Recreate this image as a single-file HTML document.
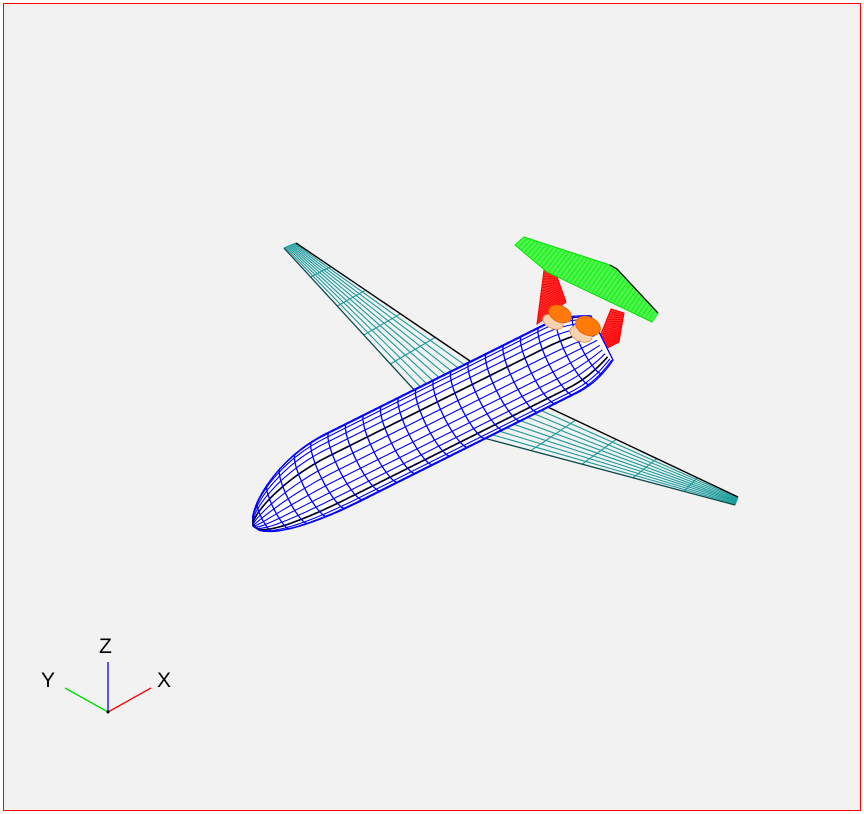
<!DOCTYPE html>
<html><head><meta charset="utf-8"><style>
html,body{margin:0;padding:0;background:#fff;}
svg{display:block;}
text{font-family:"Liberation Sans",sans-serif;font-size:21px;fill:#000;}
</style></head><body>
<svg id="c" width="864" height="814" viewBox="0 0 864 814" xmlns="http://www.w3.org/2000/svg">
<rect x="3.5" y="3.5" width="857" height="807" fill="#f2f2f2" stroke="#ff0000" stroke-width="1"/>
<g id="wl"></g>
<g id="wr"></g>
<g id="fins"></g>
<g id="fus"></g>
<g id="eng"></g>
<g id="ht"></g>
<g>
<line x1="108" y1="712" x2="108" y2="662" stroke="#0000ff" stroke-width="1.3"/>
<line x1="108" y1="712" x2="151" y2="688" stroke="#ff0000" stroke-width="1.3"/>
<line x1="108" y1="712" x2="65" y2="688" stroke="#00dd00" stroke-width="1.3"/>
<circle cx="108" cy="712" r="1.5" fill="#000"/>
<text x="99" y="653">Z</text>
<text x="157" y="687">X</text>
<text x="41" y="687">Y</text>
</g>
</svg>
<script>
const NS="http://www.w3.org/2000/svg";
function mk(g,tag,attrs){const e=document.createElementNS(NS,tag);for(const k in attrs)e.setAttribute(k,attrs[k]);document.getElementById(g).appendChild(e);return e;}
function L(a,b,t){return [a[0]+(b[0]-a[0])*t,a[1]+(b[1]-a[1])*t];}
function pts(a){return a.map(p=>p[0].toFixed(1)+","+p[1].toFixed(1)).join(" ");}
function wing(g,rA,rB,tB,tA,nSpan,nRib,col){
  const p=mk(g,'polygon',{points:pts([rA,rB,tB,tA]),fill:'#f2f2f2',stroke:'none'});
  
  for(let i=1;i<nSpan;i++){const t=i/nSpan;const a=L(rA,rB,t),b=L(tA,tB,t);
    const l=mk(g,'line',{x1:a[0],y1:a[1],x2:b[0],y2:b[1],stroke:col,'stroke-width':1.1});
    }
  for(let j=0;j<=nRib;j++){const t=j/nRib;const a=L(rA,tA,t),b=L(rB,tB,t);
    const l=mk(g,'line',{x1:a[0],y1:a[1],x2:b[0],y2:b[1],stroke:col,'stroke-width':1.1});
    }
  const e=mk(g,'line',{x1:rA[0],y1:rA[1],x2:tA[0],y2:tA[1],stroke:'#000','stroke-width':1.4});
  
  const e2=mk(g,'line',{x1:rB[0],y1:rB[1],x2:tB[0],y2:tB[1],stroke:'#0a4a4a','stroke-width':1.3});
  
}
wing('wl',[470,361],[417,393],[284,248],[296,243],9,5,'#1a9a9a');
wing('wr',[535,401],[480,437],[735,505],[738,497],9,5,'#1a9a9a');
function mesh(g,poly,col,n,name){
  const p=mk(g,'polygon',{points:pts(poly),fill:col,'fill-opacity':0.8,stroke:col,'stroke-width':1});
  
  const a=poly[0],b=poly[1],c=poly[2],d=poly[3];
  for(let i=0;i<=n;i++){const t=i/n;const u=L(a,d,t),v=L(b,c,t);
    const l=mk(g,'line',{x1:u[0],y1:u[1],x2:v[0],y2:v[1],stroke:col,'stroke-width':0.9});
    }
}
mesh('fins',[[544,270],[556,274],[566,302],[537,324]],'#ff0000',18,'left-fin');
mesh('fins',[[611,309],[624,313],[619,342],[592,356]],'#ff0000',18,'right-fin');
const N=[252,513],T=[602,338];
const dx=T[0]-N[0],dy=T[1]-N[1],len=Math.hypot(dx,dy);
const d=[dx/len,dy/len],n=[d[1],-d[0]];
if(n[1]>0){n[0]=-n[0];n[1]=-n[1];}
const R=38,K=0.22;
function rad(s){if(s<0.26){const u=s/0.26;return R*Math.pow(Math.max(0,1-(1-u)*(1-u)),0.6);}
  if(s>0.88){const u=(s-0.88)/0.12;return R*(1-0.35*u*u);}return R;}
function P(s,th){const r=rad(s);let cx=N[0]+dx*s,cy=N[1]+dy*s;
  if(s<0.26){const u=1-s/0.26;cy+=13*u*u;cx+=1*u*u;}
  return [cx+n[0]*r*Math.cos(th)-d[0]*r*K*Math.sin(th), cy+n[1]*r*Math.cos(th)-d[1]*r*K*Math.sin(th)];}
const out=[];for(let i=0;i<=100;i++)out.push(P(i/100,0));
for(let i=100;i>=0;i--)out.push(P(i/100,Math.PI));
const fb=mk('fus','polygon',{points:pts(out),fill:'#ffffff',stroke:'#0000ff','stroke-width':1.3});

const NS_=14;
for(let k=1;k<NS_;k++){const th=Math.PI*k/NS_;const a=[];for(let i=0;i<=100;i++)a.push(P(i/100,th));
  const blk=(k==5||k==11);
  const l=mk('fus','polyline',{points:pts(a),fill:'none',stroke:blk?'#000022':'#0000ff','stroke-width':blk?1.7:1.1});
  }
const st=[0.035,0.075,0.12,0.17,0.22,0.27,0.32,0.37,0.42,0.47,0.52,0.57,0.62,0.67,0.72,0.77,0.82,0.87,0.92,0.96];
st.forEach(s=>{const a=[];for(let i=0;i<=24;i++)a.push(P(s,Math.PI*i/24));
  const l=mk('fus','polyline',{points:pts(a),fill:'none',stroke:'#0000ff','stroke-width':1.3});
  });
[[560,314,12,8],[588,326,13,9]].forEach(e=>{
  const b=mk('eng','ellipse',{cx:e[0]-7,cy:e[1]+8,rx:e[2]*0.9,ry:e[3]*0.8,fill:'#f6d2b0',stroke:'#e89a66','stroke-width':1,transform:`rotate(25 ${e[0]-7} ${e[1]+8})`});
  
  const o=mk('eng','ellipse',{cx:e[0],cy:e[1],rx:e[2],ry:e[3],fill:'#ff7a0a',stroke:'#e06000','stroke-width':0.8,transform:`rotate(25 ${e[0]} ${e[1]})`});
  });
const LE=[[524,237],[610,265],[617,269],[658,313]];
const TE=[[515,245],[547,272],[652,322]];
const hp=mk('ht','polygon',{points:pts(LE.concat(TE.slice().reverse())),fill:'#55ee55',stroke:'#00dd00','stroke-width':1});

function along(poly,t){const segs=[];let tot=0;for(let i=0;i<poly.length-1;i++){const l=Math.hypot(poly[i+1][0]-poly[i][0],poly[i+1][1]-poly[i][1]);segs.push(l);tot+=l;}
  let x=t*tot;for(let i=0;i<segs.length;i++){if(x<=segs[i]||i==segs.length-1)return L(poly[i],poly[i+1],Math.min(1,x/segs[i]));x-=segs[i];}}
for(let i=0;i<=40;i++){const t=i/40;const a=along(LE,t),b=along(TE,t);
  const l=mk('ht','line',{x1:a[0],y1:a[1],x2:b[0],y2:b[1],stroke:'#00ff00','stroke-width':1});
  }
const he=mk('ht','polyline',{points:pts([[610,265],[617,269],[658,313]]),fill:'none',stroke:'#000','stroke-width':1.2});

</script>
</body></html>
